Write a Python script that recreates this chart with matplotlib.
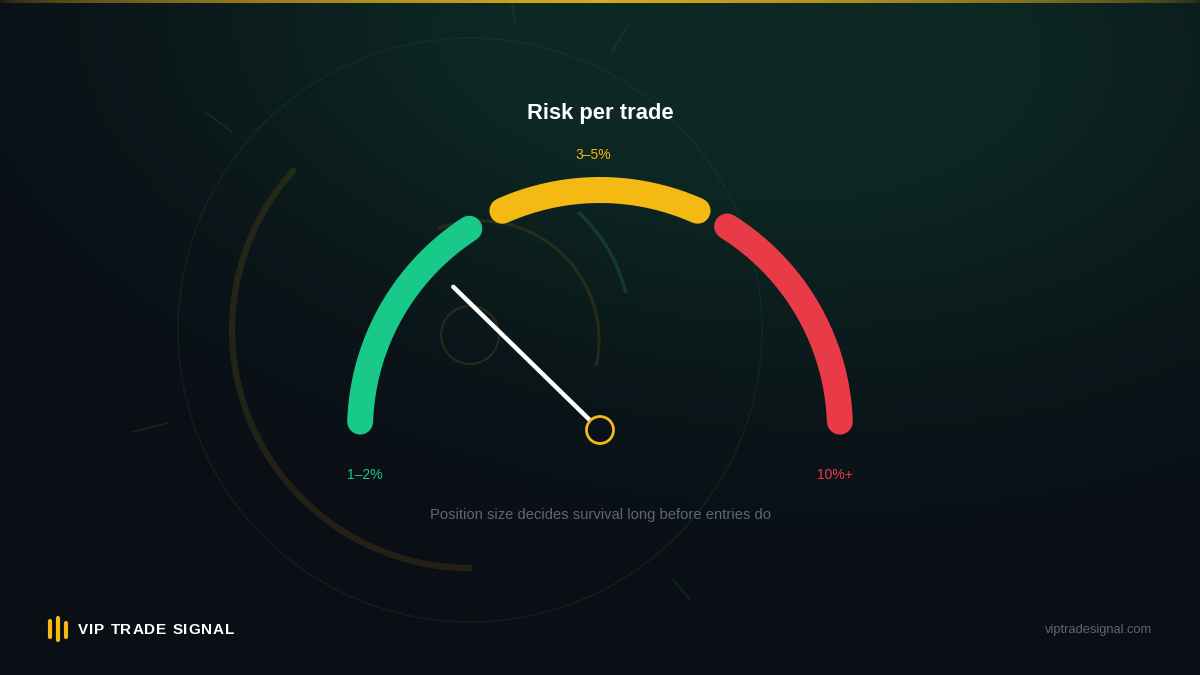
import numpy as np
import matplotlib
matplotlib.use("Agg")
import matplotlib.pyplot as plt
from matplotlib.patches import Circle

plt.rcParams['font.family'] = ['Liberation Sans', 'DejaVu Sans']

# gauge data
zone_labels = ["1–2%", "3–5%", "10%+"]
zone_colors = ["#19c98a", "#f5b914", "#e93a48"]
zone_start = [178, 114, 58]      # degrees, 180 = far left
zone_end = [123, 66, 2]
needle_angle = 135.7
title = "Risk per trade"
subtitle = "Position size decides survival long before entries do"
brand = "VIP TRADE SIGNAL"
site = "viptradesignal.com"

W, H = 1200, 675
cx, cy, R = 600, 430, 240


def arc_xy(xc, yc, r, a0, a1, n=200):
    t = np.radians(np.linspace(a0, a1, n))
    return xc + r * np.cos(t), yc - r * np.sin(t)


fig = plt.figure(figsize=(12, 6.75), dpi=100)
ax = fig.add_axes([0, 0, 1, 1])
ax.set_xlim(0, W)
ax.set_ylim(H, 0)
ax.axis("off")

# background gradient
yy, xx = np.mgrid[0:H, 0:W]
base = np.array([10, 14, 21]) / 255.0
glow = np.array([13, 40, 35]) / 255.0
w = np.exp(-((xx - 860) / 500.0) ** 2 - ((yy - 60) / 320.0) ** 2)
w2 = 0.45 * np.exp(-((xx - 450) / 400.0) ** 2 - ((yy - 0) / 260.0) ** 2)
w = np.clip(w + w2, 0, 1)
img = base[None, None, :] * (1 - w[..., None]) + glow[None, None, :] * w[..., None]
ax.imshow(img, extent=(0, W, H, 0), zorder=0, aspect="auto")

# top gold strip
xs = np.linspace(0, 1, W)
strip = np.zeros((1, W, 4))
strip[0, :, :3] = np.array([220, 172, 30]) / 255.0
strip[0, :, 3] = np.clip(1 - np.abs(xs - 0.5) * 2, 0, 1) ** 0.5 * 0.95 + 0.05
ax.imshow(strip, extent=(0, W, 3, 0), zorder=1, aspect="auto")

# faint decorations
dx, dy = 470, 330
x, y = arc_xy(dx, dy, 292, 0, 360, 400)
ax.plot(x, y, color="#1c4a3c", lw=1.0, alpha=0.3, zorder=1)
x, y = arc_xy(dx, dy, 238, 138, 270)
ax.plot(x, y, color="#5a4a16", lw=4.5, alpha=0.32, zorder=1, solid_capstyle="round")
x, y = arc_xy(480, 340, 119, 110, -12)
ax.plot(x, y, color="#5a4a16", lw=2.2, alpha=0.35, zorder=1, solid_capstyle="round")
x, y = arc_xy(dx, dy, 160, 47, 14)
ax.plot(x, y, color="#1f6b56", lw=2.5, alpha=0.35, zorder=1, solid_capstyle="round")
ax.add_patch(Circle((470, 335), 29, fill=False, ec="#5a4a16", lw=1.5, alpha=0.4, zorder=1))
for (x0, y0, x1, y1) in [(207, 113, 232, 132), (612, 52, 628, 25), (512, 4, 515, 22),
                         (133, 432, 168, 423), (672, 578, 690, 600)]:
    ax.plot([x0, x1], [y0, y1], color="#1f5a48", lw=1.2, alpha=0.32, zorder=1)

# gauge arcs
for a0, a1, col in zip(zone_start, zone_end, zone_colors):
    x, y = arc_xy(cx, cy, R, a0, a1)
    ax.plot(x, y, color=col, lw=18.7, solid_capstyle="round", zorder=3)

# needle
nl = 205
t = np.radians(needle_angle)
ax.plot([cx, cx + nl * np.cos(t)], [cy, cy - nl * np.sin(t)], color="white",
        lw=3.2, solid_capstyle="round", zorder=4)
ax.add_patch(Circle((cx, cy), 13.5, fc="#0b1118", ec="#f5b914", lw=2.0, zorder=5))

# labels
ax.text(600, 113, title, color="white", fontsize=15.8, fontweight="bold",
        ha="center", va="center", zorder=6)
ax.text(593, 155, zone_labels[1], color=zone_colors[1], fontsize=10,
        ha="center", va="center", zorder=6)
ax.text(365, 475, zone_labels[0], color=zone_colors[0], fontsize=10,
        ha="center", va="center", zorder=6)
ax.text(835, 475, zone_labels[2], color=zone_colors[2], fontsize=10,
        ha="center", va="center", zorder=6)
ax.text(600, 515, subtitle, color="#5d6673", fontsize=10.6,
        ha="center", va="center", zorder=6)

# footer brand
for bx, b0, b1 in [(50, 621, 637), (57.5, 618, 640), (66, 623, 637)]:
    ax.plot([bx, bx], [b0, b1], color="#f5b914", lw=3.0, solid_capstyle="round", zorder=6)
fig.canvas.draw()
rend = fig.canvas.get_renderer()
px = 78
for ch in brand:
    tx = ax.text(px, 630, ch, color="white", fontsize=11, fontweight="bold",
                 ha="left", va="center", zorder=6)
    if ch == " ":
        adv = 4.5
    else:
        adv = tx.get_window_extent(rend).width
    px += adv + 0.85
ax.text(1152, 630, site, color="#5d6673", fontsize=9.3, ha="right", va="center", zorder=6)

fig.savefig("out.png", dpi=100)
